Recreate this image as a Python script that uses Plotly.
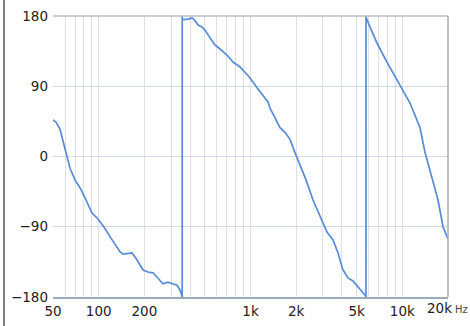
import plotly.graph_objects as go

# frequency (Hz) and phase (degrees)
freq_1 = [50, 52.3, 55.6, 58.2, 60.9, 64.7, 69.8, 75.3, 82.5, 90.3, 99, 108, 119, 130,
          138, 145, 154, 166, 179, 196, 211, 228, 246, 265, 286, 309, 328, 343, 354, 355]
phase_1 = [47, 44, 35, 20, 2, -15, -30, -40, -55.7, -72.4, -80, -90, -103, -115,
           -122, -125, -124, -123.6, -132.6, -145.4, -148, -149, -156, -163, -161, -163,
           -165, -171, -178, -180]

freq_2 = [355, 356, 388, 412, 431, 451, 479, 501, 541, 583, 630, 700, 767, 853, 920, 993,
          1104, 1209, 1304, 1345, 1450, 1565, 1688, 1820, 1964, 2119, 2321, 2581, 2785,
          2960, 3191, 3497, 3771, 4066, 4386, 4733, 5106, 5595, 5700, 5765]
phase_2 = [180, 175, 176, 177.5, 174, 168.5, 166, 162, 152, 143, 137.7, 130, 121, 114.7,
           108, 100.6, 88, 78.8, 70, 62, 50, 37, 31, 22, 5, -10, -30, -55.7, -70, -81,
           -96.7, -107, -123.6, -145.4, -155.6, -159.5, -167, -175, -178, -180]

freq_3 = [5765, 5800, 6125, 6810, 7925, 9224, 10100, 11240, 13080, 14120, 15220, 16190,
          17190, 18540, 19700, 20000]
phase_3 = [180, 177, 166, 145.4, 121, 98, 85, 68.5, 37, 5, -18, -37, -55.7, -90, -103, -106]

x_major = [50, 100, 200, 1000, 2000, 5000, 10000]
x_major_text = ["50", "100", "200", "1k", "2k", "5k", "10k"]
x_minor = [60, 70, 80, 90, 300, 400, 500, 600, 700, 800, 900,
           3000, 4000, 6000, 7000, 8000, 9000, 20000]
y_ticks = [-180, -90, 0, 90, 180]
y_text = ["\u2212180", "\u221290", "0", "90", "180"]

freq = freq_1 + freq_2 + freq_3
phase = phase_1 + phase_2 + phase_3

FONT = "DejaVu Sans"
FS = 13.5
fig = go.Figure()
fig.add_trace(go.Scatter(x=freq, y=phase, mode="lines",
                         line=dict(color="#588bd8", width=1.7), hoverinfo="skip"))

fig.update_layout(
    width=470, height=326,
    margin=dict(l=53, r=22, t=16, b=29, autoexpand=False),
    paper_bgcolor="white", plot_bgcolor="white",
    showlegend=False,
    font=dict(family=FONT, size=FS, color="#222222"),
    xaxis=dict(type="log", range=[1.69897, 4.30103], automargin=False,
               tickvals=x_major, ticktext=x_major_text, ticks="",
               showgrid=True, gridcolor="#dfdfe4", gridwidth=1,
               minor=dict(tickvals=x_minor, showgrid=True, gridcolor="#dfdfe4", gridwidth=1, ticks=""),
               showline=True, linecolor="#9aabbf", linewidth=2,
               zeroline=False, ticklabelstandoff=1,
               tickfont=dict(family=FONT, size=FS, color="#222222")),
    yaxis=dict(range=[-180, 180], tickvals=y_ticks, ticktext=y_text, ticks="",
               automargin=False,
               showgrid=True, gridcolor="#d0dbe6", gridwidth=1, zeroline=False,
               showline=False, ticklabelstandoff=4,
               tickfont=dict(family=FONT, size=FS, color="#222222")),
    shapes=[
        dict(type="line", xref="paper", yref="paper", x0=0, x1=1, y0=1, y1=1,
             line=dict(color="#b9bcc4", width=1.5)),
        dict(type="line", xref="paper", yref="paper", x0=1, x1=1, y0=0, y1=1,
             line=dict(color="#a8acb4", width=1.5)),
        dict(type="line", xref="paper", yref="paper", x0=-49 / 395, x1=-49 / 395,
             y0=-29 / 281, y1=1 + 16 / 281, line=dict(color="#555555", width=1.5)),
    ],
    annotations=[
        dict(x=4.30103, y=0, xref="x", yref="paper", text="20k", showarrow=False,
             xanchor="center", yanchor="top", xshift=-9, yshift=-1,
             font=dict(family=FONT, size=FS, color="#222222")),
        dict(x=1, y=0, xref="paper", yref="paper", text="Hz", showarrow=False,
             xanchor="left", yanchor="top", xshift=5, yshift=-5,
             font=dict(family=FONT, size=10, color="#444444")),
    ],
)

fig.write_html("out.html", config={"displayModeBar": False},
               post_script="document.body.style.margin='0px';document.body.style.overflow='hidden';")
